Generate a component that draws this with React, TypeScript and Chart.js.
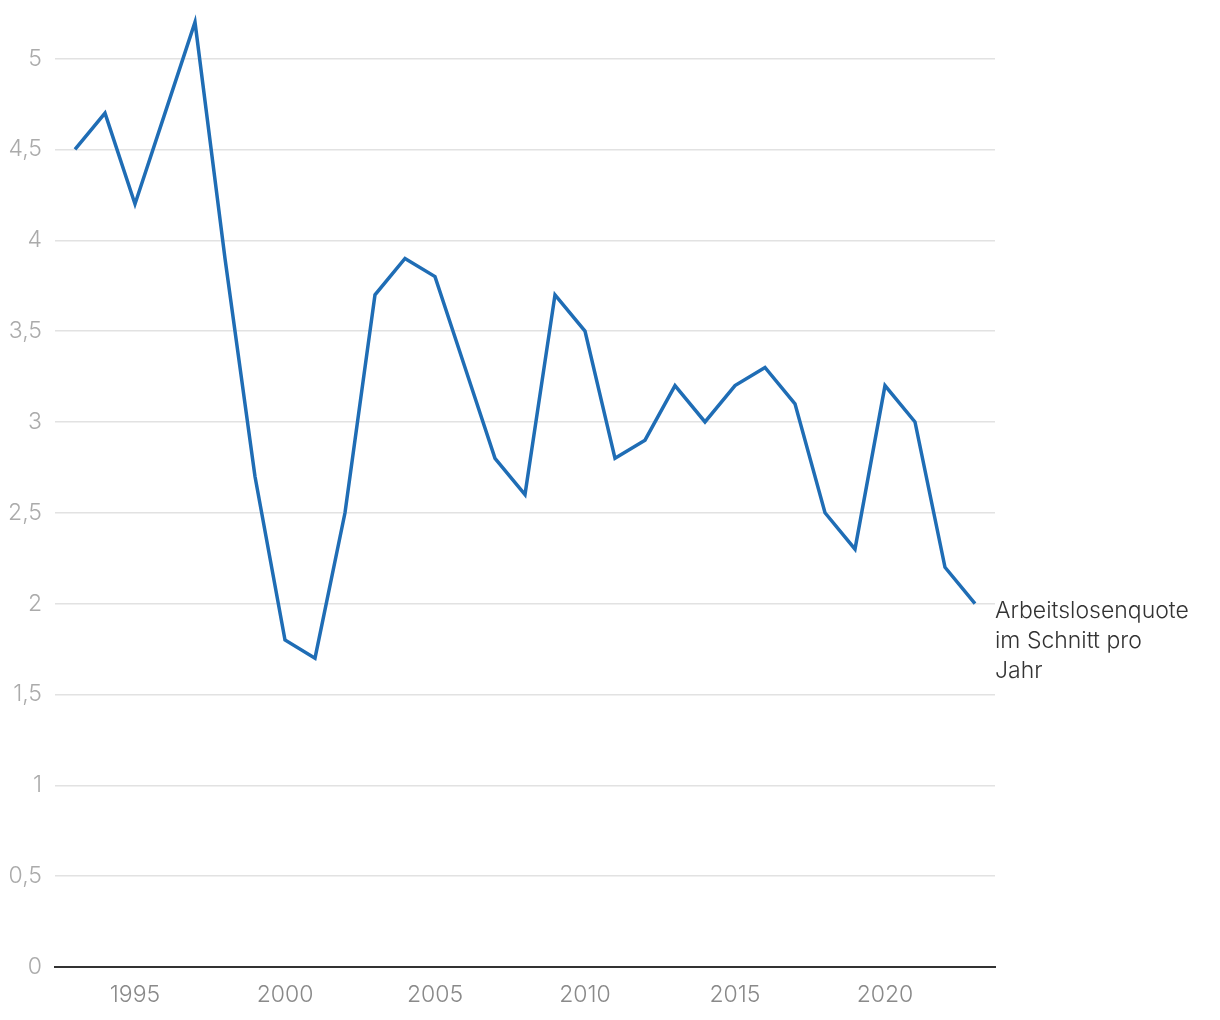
import React, { useEffect, useRef } from "react";
import { Chart, registerables } from "chart.js";

Chart.register(...registerables);

const years = [
  1993, 1994, 1995, 1996, 1997, 1998, 1999, 2000, 2001, 2002, 2003, 2004, 2005, 2006, 2007, 2008,
  2009, 2010, 2011, 2012, 2013, 2014, 2015, 2016, 2017, 2018, 2019, 2020, 2021, 2022, 2023,
];
const rates = [
  4.5, 4.7, 4.2, 4.7, 5.2, 3.9, 2.7, 1.8, 1.7, 2.5, 3.7, 3.9, 3.8, 3.3, 2.8, 2.6,
  3.7, 3.5, 2.8, 2.9, 3.2, 3.0, 3.2, 3.3, 3.1, 2.5, 2.3, 3.2, 3.0, 2.2, 2.0,
];
const xTickYears = [1995, 2000, 2005, 2010, 2015, 2020];
const yTickValues = [0, 0.5, 1, 1.5, 2, 2.5, 3, 3.5, 4, 4.5, 5];
const seriesLabel = ["Arbeitslosenquote", "im Schnitt pro", "Jahr"];

const FONT = "Inter, 'Noto Sans', sans-serif";

const endLabelPlugin = {
  id: "endLabel",
  afterDatasetsDraw(chart: any) {
    const { ctx, chartArea } = chart;
    const meta = chart.getDatasetMeta(0);
    const last = meta.data[meta.data.length - 1];
    if (!last) return;
    ctx.save();
    ctx.font = `300 23px ${FONT}`;
    ctx.fillStyle = "#333333";
    ctx.textAlign = "left";
    ctx.textBaseline = "middle";
    seriesLabel.forEach((line, i) => {
      ctx.fillText(line, chartArea.right, last.y + 7 + i * 30);
    });
    ctx.restore();
  },
};

export default function App() {
  const ref = useRef<HTMLCanvasElement | null>(null);
  useEffect(() => {
    if (!ref.current) return;
    const chart = new Chart(ref.current, {
      type: "line",
      data: {
        datasets: [
          {
            label: seriesLabel.join(" "),
            data: years.map((y, i) => ({ x: y, y: rates[i] })),
            borderColor: "#1f6db5",
            borderWidth: 3.5,
            pointRadius: 0,
            tension: 0,
            fill: false,
            clip: false,
          },
        ],
      },
      options: {
        animation: false,
        responsive: false,
        maintainAspectRatio: false,
        layout: { padding: { top: 0, right: 225, left: 0, bottom: 0 } },
        plugins: { legend: { display: false }, tooltip: { enabled: false } },
        scales: {
          x: {
            type: "linear",
            min: 1993 - 2 / 3,
            max: 2023 + 2 / 3,
            afterBuildTicks: (axis: any) => {
              axis.ticks = xTickYears.map((v) => ({ value: v }));
            },
            afterFit: (axis: any) => {
              axis.height = 53;
            },
            grid: { display: false, drawTicks: false },
            border: { display: true, color: "#333333", width: 2 },
            ticks: {
              padding: 14,
              color: "#8a8a8a",
              font: { family: FONT, size: 23, weight: 300 as any },
              callback: (v: any) => String(v),
              maxRotation: 0,
            },
          },
          y: {
            min: 0,
            max: 5.175,
            afterBuildTicks: (axis: any) => {
              axis.ticks = yTickValues.map((v) => ({ value: v }));
            },
            afterFit: (axis: any) => {
              axis.width = 55;
            },
            grid: { color: "#e2e2e2", lineWidth: 1.5, drawTicks: false },
            border: { display: false },
            ticks: {
              padding: 13,
              color: "#ababab",
              font: { family: FONT, size: 23, weight: 300 as any },
              callback: (v: any) => String(v).replace(".", ","),
            },
          },
        },
      },
      plugins: [endLabelPlugin],
    });
    return () => chart.destroy();
  }, []);
  return (
    <div style={{ position: "fixed", left: 0, top: 0, width: 1220, height: 1020, background: "#fff" }}>
      <canvas ref={ref} width={1220} height={1020} style={{ width: 1220, height: 1020, display: "block" }} />
    </div>
  );
}
